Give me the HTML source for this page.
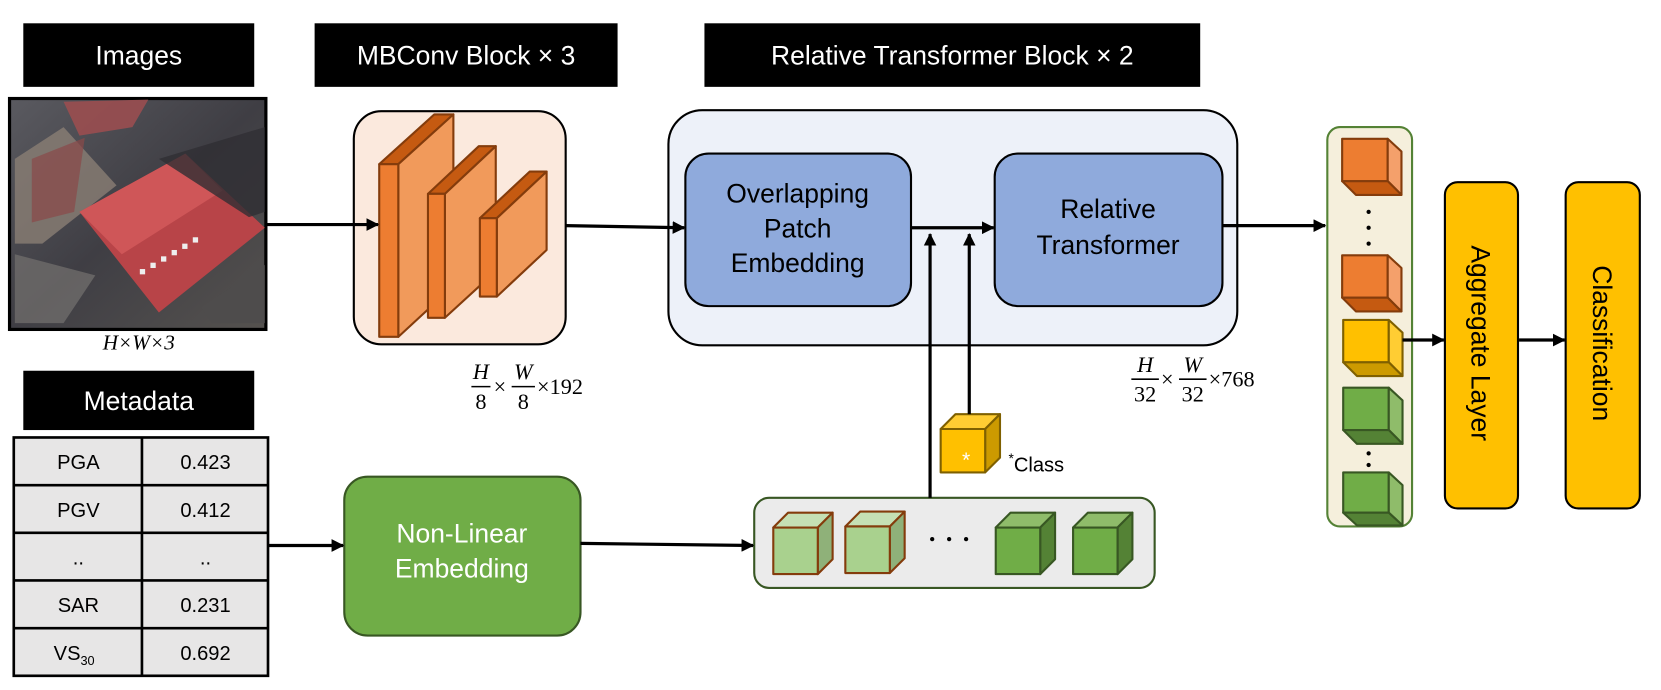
<!DOCTYPE html>
<html><head><meta charset="utf-8"><style>
html,body{margin:0;padding:0;background:#fff;}
svg{display:block;}
text{font-family:"Liberation Sans",sans-serif;}
.m{font-family:"Liberation Serif",serif;}
</style></head><body>
<svg width="1661" height="690" viewBox="0 0 1568 651.4" preserveAspectRatio="none" xmlns="http://www.w3.org/2000/svg">
<defs>
<marker id="ah" markerWidth="12" markerHeight="12" refX="11" refY="6" orient="auto" markerUnits="userSpaceOnUse">
<path d="M0,0 L12,6 L0,12 z" fill="#000"/></marker>
<linearGradient id="img" x1="0" y1="0" x2="1" y2="1">
<stop offset="0" stop-color="#5a5a60"/><stop offset="0.5" stop-color="#3f3e44"/><stop offset="1" stop-color="#55524f"/></linearGradient>
</defs>

<!-- headers -->
<rect x="22" y="22" width="218" height="60" fill="#000"/>
<text x="131" y="61" fill="#fff" font-size="25" text-anchor="middle">Images</text>
<rect x="297" y="22" width="286" height="60" fill="#000"/>
<text x="440" y="61" fill="#fff" font-size="25" text-anchor="middle">MBConv Block × 3</text>
<rect x="665" y="22" width="468" height="60" fill="#000"/>
<text x="899" y="61" fill="#fff" font-size="25" text-anchor="middle">Relative Transformer Block × 2</text>
<rect x="22" y="350" width="218" height="56" fill="#000"/>
<text x="131" y="387" fill="#fff" font-size="25" text-anchor="middle">Metadata</text>

<!-- image -->
<rect x="9" y="93" width="242" height="218" fill="url(#img)" stroke="#000" stroke-width="3"/>
<polygon points="14,150 60,120 110,175 40,230 14,230" fill="#8a7e74" opacity="0.8"/>
<polygon points="60,96 140,94 125,120 75,128" fill="#9a4e50" opacity="0.9"/>
<polygon points="30,150 80,130 70,200 30,210" fill="#8a4848" opacity="0.7"/>
<polygon points="75,200 175,145 250,215 150,295" fill="#b84448"/>
<polygon points="75,200 175,145 210,180 115,240" fill="#cf5658"/>
<polygon points="150,150 250,120 250,200 235,205" fill="#2f2e33" opacity="0.8"/>
<polygon points="14,240 90,260 60,305 14,305" fill="#6e6c6a" opacity="0.8"/>
<polygon points="190,290 250,250 250,305 200,305" fill="#4e4c4c"/>
<g fill="#eee"><rect x="132" y="254" width="5" height="5"/><rect x="142" y="248" width="5" height="5"/><rect x="152" y="242" width="5" height="5"/><rect x="162" y="236" width="5" height="5"/><rect x="172" y="230" width="5" height="5"/><rect x="182" y="224" width="5" height="5"/></g>
<text class="m" x="131" y="330" font-size="20" font-style="italic" text-anchor="middle">H×W×3</text>

<!-- MBConv -->
<rect x="334" y="105" width="200" height="220" rx="26" fill="#fbe9dd" stroke="#000" stroke-width="2"/>
<g stroke="#843c0c" stroke-width="2" stroke-linejoin="round">
<polygon points="358,155 410,108 428,108 376,155" fill="#c55a11"/>
<polygon points="376,155 428,108 428,270 376,318" fill="#f19a5b"/>
<rect x="358" y="155" width="18" height="163" fill="#ed7d31"/>
<polygon points="404,183 452,138 468,138 420,183" fill="#c55a11"/>
<polygon points="420,183 468,138 468,256 420,300" fill="#f19a5b"/>
<rect x="404" y="183" width="16" height="117" fill="#ed7d31"/>
<polygon points="453,206 500,162 516,162 469,206" fill="#c55a11"/>
<polygon points="469,206 516,162 516,236 469,280" fill="#f19a5b"/>
<rect x="453" y="206" width="16" height="74" fill="#ed7d31"/>
</g>
<!-- formula 1 -->
<g font-size="21" fill="#000">
<text x="454" y="358" font-style="italic" text-anchor="middle" class="m">H</text>
<line x1="445" y1="365" x2="463" y2="365" stroke="#000" stroke-width="1.5"/>
<text x="454" y="386" text-anchor="middle" class="m">8</text>
<text x="466" y="372" class="m">×</text>
<text x="494" y="358" font-style="italic" text-anchor="middle" class="m">W</text>
<line x1="483" y1="365" x2="505" y2="365" stroke="#000" stroke-width="1.5"/>
<text x="494" y="386" text-anchor="middle" class="m">8</text>
<text x="507" y="372" class="m">×192</text>
</g>

<!-- Transformer outer -->
<rect x="631" y="104" width="537" height="222" rx="32" fill="#edf1f9" stroke="#000" stroke-width="2"/>
<rect x="647" y="145" width="213" height="144" rx="22" fill="#8faadc" stroke="#000" stroke-width="2"/>
<text x="753" y="191" font-size="25" text-anchor="middle">Overlapping</text>
<text x="753" y="224" font-size="25" text-anchor="middle">Patch</text>
<text x="753" y="257" font-size="25" text-anchor="middle">Embedding</text>
<rect x="939" y="145" width="215" height="144" rx="22" fill="#8faadc" stroke="#000" stroke-width="2"/>
<text x="1046" y="206" font-size="25" text-anchor="middle">Relative</text>
<text x="1046" y="240" font-size="25" text-anchor="middle">Transformer</text>

<!-- formula 2 -->
<g font-size="21">
<text x="1081" y="351" font-style="italic" text-anchor="middle" class="m">H</text>
<line x1="1068" y1="358" x2="1094" y2="358" stroke="#000" stroke-width="1.5"/>
<text x="1081" y="379" text-anchor="middle" class="m">32</text>
<text x="1096" y="365" class="m">×</text>
<text x="1126" y="351" font-style="italic" text-anchor="middle" class="m">W</text>
<line x1="1113" y1="358" x2="1139" y2="358" stroke="#000" stroke-width="1.5"/>
<text x="1126" y="379" text-anchor="middle" class="m">32</text>
<text x="1141" y="365" class="m">×768</text>
</g>

<!-- table -->
<g stroke="#000" stroke-width="2.5" fill="#e7e6e6">
<rect x="13" y="413" width="240" height="225"/>
<line x1="134" y1="413" x2="134" y2="638"/>
<line x1="13" y1="458" x2="253" y2="458"/>
<line x1="13" y1="503" x2="253" y2="503"/>
<line x1="13" y1="548" x2="253" y2="548"/>
<line x1="13" y1="593" x2="253" y2="593"/>
</g>
<g font-size="19" text-anchor="middle">
<text x="74" y="443">PGA</text><text x="194" y="443">0.423</text>
<text x="74" y="488">PGV</text><text x="194" y="488">0.412</text>
<text x="74" y="533">..</text><text x="194" y="533">..</text>
<text x="74" y="578">SAR</text><text x="194" y="578">0.231</text>
<text x="70" y="623">VS<tspan font-size="12" dy="5">30</tspan></text><text x="194" y="623">0.692</text>
</g>

<!-- Non-linear -->
<rect x="325" y="450" width="223" height="150" rx="22" fill="#70ad47" stroke="#385723" stroke-width="2"/>
<text x="436" y="512" font-size="25" fill="#fff" text-anchor="middle">Non-Linear</text>
<text x="436" y="545" font-size="25" fill="#fff" text-anchor="middle">Embedding</text>

<!-- token bar -->
<rect x="712" y="470" width="378" height="85" rx="14" fill="#ebebeb" stroke="#385723" stroke-width="2"/>
<g stroke-width="2" stroke-linejoin="round">
<g stroke="#843c0c">
<polygon points="730,498 744,484 786,484 772,498" fill="#c5e0b4"/><polygon points="772,498 786,484 786,528 772,542" fill="#8fb179"/><rect x="730" y="498" width="42" height="44" fill="#a9d18e"/>
<polygon points="798,497 812,483 854,483 840,497" fill="#c5e0b4"/><polygon points="840,497 854,483 854,527 840,541" fill="#8fb179"/><rect x="798" y="497" width="42" height="44" fill="#a9d18e"/>
</g>
<g stroke="#385723">
<polygon points="940,498 954,484 996,484 982,498" fill="#8fbc6a"/><polygon points="982,498 996,484 996,528 982,542" fill="#548235"/><rect x="940" y="498" width="42" height="44" fill="#70ad47"/>
<polygon points="1013,498 1027,484 1069,484 1055,498" fill="#8fbc6a"/><polygon points="1055,498 1069,484 1069,528 1055,542" fill="#548235"/><rect x="1013" y="498" width="42" height="44" fill="#70ad47"/>
</g>
</g>
<g fill="#000"><circle cx="880" cy="509" r="2"/><circle cx="896" cy="509" r="2"/><circle cx="912" cy="509" r="2"/></g>

<!-- class cube -->
<g stroke="#7f6000" stroke-width="2" stroke-linejoin="round">
<polygon points="888,405 902,391 944,391 930,405" fill="#ffcd33"/>
<polygon points="930,405 944,391 944,432 930,446" fill="#cc9a00"/>
<rect x="888" y="405" width="42" height="41" fill="#ffc000"/>
</g>
<text x="912" y="441" font-size="20" fill="#fff" text-anchor="middle">*</text>
<text x="952" y="445" font-size="19"><tspan font-size="13" dy="-8">*</tspan><tspan dy="8">Class</tspan></text>

<!-- column -->
<rect x="1253" y="120" width="80" height="377" rx="12" fill="#f5efdc" stroke="#548235" stroke-width="2"/>
<g stroke-width="2" stroke-linejoin="round">
<g stroke="#843c0c">
<rect x="1267" y="131" width="43" height="40" fill="#ed7d31"/><polygon points="1310,131 1323,143 1323,184 1310,171" fill="#f4a06b"/><polygon points="1267,171 1310,171 1323,184 1280,184" fill="#c55a11"/>
<rect x="1267" y="241" width="43" height="40" fill="#ed7d31"/><polygon points="1310,241 1323,253 1323,294 1310,281" fill="#f4a06b"/><polygon points="1267,281 1310,281 1323,294 1280,294" fill="#c55a11"/>
</g>
<g stroke="#7f6000">
<rect x="1268" y="302" width="43" height="40" fill="#ffc000"/><polygon points="1311,302 1324,314 1324,355 1311,342" fill="#ffcd33"/><polygon points="1268,342 1311,342 1324,355 1281,355" fill="#cc9a00"/>
</g>
<g stroke="#385723">
<rect x="1268" y="366" width="43" height="40" fill="#70ad47"/><polygon points="1311,366 1324,378 1324,419 1311,406" fill="#8fbc6a"/><polygon points="1268,406 1311,406 1324,419 1281,419" fill="#548235"/>
<rect x="1268" y="446" width="43" height="38" fill="#70ad47"/><polygon points="1311,446 1324,458 1324,496 1311,484" fill="#8fbc6a"/><polygon points="1268,484 1311,484 1324,496 1281,496" fill="#548235"/>
</g>
</g>
<g fill="#000">
<circle cx="1292" cy="200" r="2"/><circle cx="1292" cy="215" r="2"/><circle cx="1292" cy="230" r="2"/>
<circle cx="1292" cy="428" r="2"/><circle cx="1292" cy="439" r="2"/>
</g>

<!-- aggregate / classification -->
<rect x="1364" y="172" width="69" height="308" rx="12" fill="#ffc000" stroke="#000" stroke-width="2"/>
<text transform="translate(1389,324) rotate(90)" font-size="25" text-anchor="middle">Aggregate Layer</text>
<rect x="1478" y="172" width="70" height="308" rx="12" fill="#ffc000" stroke="#000" stroke-width="2"/>
<text transform="translate(1504,324) rotate(90)" font-size="25" text-anchor="middle">Classification</text>

<!-- arrows (on top) -->
<g stroke="#000" stroke-width="3" fill="none">
<line x1="252" y1="212" x2="357" y2="212" marker-end="url(#ah)"/>
<line x1="534" y1="213" x2="646" y2="215" marker-end="url(#ah)"/>
<line x1="860" y1="215" x2="938" y2="215" marker-end="url(#ah)"/>
<line x1="878" y1="470" x2="878" y2="221" marker-end="url(#ah)"/>
<line x1="915" y1="391" x2="915" y2="221" marker-end="url(#ah)"/>
<line x1="1155" y1="213" x2="1251" y2="213" marker-end="url(#ah)"/>
<line x1="253" y1="515" x2="324" y2="515" marker-end="url(#ah)"/>
<line x1="548" y1="513" x2="711" y2="515" marker-end="url(#ah)"/>
<line x1="1324" y1="321" x2="1363" y2="321" marker-end="url(#ah)"/>
<line x1="1434" y1="321" x2="1477" y2="321" marker-end="url(#ah)"/>
</g>
</svg>
</body></html>
